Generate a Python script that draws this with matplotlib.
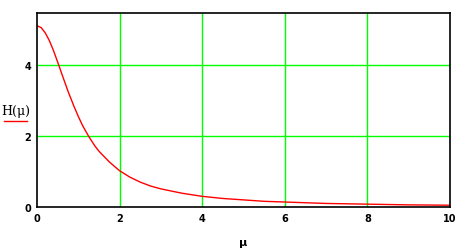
import matplotlib
matplotlib.use("Agg")
import matplotlib.pyplot as plt
from matplotlib.lines import Line2D

mu = [0, 0.1, 0.2, 0.3, 0.4, 0.5, 0.6, 0.75, 0.9, 1.0, 1.1, 1.25, 1.4, 1.5, 1.75, 2.0,
      2.25, 2.5, 2.75, 3.0, 3.5, 4.0, 4.5, 5.0, 5.5, 6.0, 7.0, 8.0, 9.0, 10.0]
H = [5.10, 5.05, 4.90, 4.68, 4.40, 4.08, 3.75, 3.26, 2.82, 2.55, 2.30, 1.99, 1.72, 1.57,
     1.27, 1.02, 0.84, 0.70, 0.59, 0.51, 0.39, 0.30, 0.24, 0.20, 0.16, 0.14, 0.10, 0.08,
     0.06, 0.05]
xticks = [0, 2, 4, 6, 8, 10]
yticks = [0, 2, 4]

W, Hh = 463, 251
fig = plt.figure(figsize=(W / 100, Hh / 100), dpi=100)
ax = fig.add_axes([37 / W, 1 - 208 / Hh, (450 - 37) / W, (208 - 14) / Hh])
ax.plot(mu, H, color="#ff0000", lw=1.0, zorder=3)
ax.set_xlim(0, 10)
ax.set_ylim(0, 5.46)
ax.set_xticks(xticks)
ax.set_yticks(yticks)
ax.grid(True, color="#00ff00", lw=1.0, zorder=1)
for t, gl in zip(xticks, ax.xaxis.get_gridlines()):
    if t in (xticks[0], xticks[-1]):
        gl.set_visible(False)
for t, gl in zip(yticks, ax.yaxis.get_gridlines()):
    if t == yticks[0]:
        gl.set_visible(False)
ax.tick_params(length=0, labelsize=7, pad=4)
for lab in ax.get_xticklabels() + ax.get_yticklabels():
    lab.set_fontweight("bold")
for s in ax.spines.values():
    s.set_linewidth(1.2)
    s.set_color("black")
    s.set_zorder(5)

fig.text(243 / W, 1 - 243 / Hh, "μ", ha="center", va="center", fontsize=8, fontweight="bold")
fig.text(16 / W, 1 - 112 / Hh, "H(μ)", ha="center", va="center", fontsize=9,
         family="DejaVu Serif")
fig.add_artist(Line2D([4 / W, 27 / W], [1 - 122 / Hh, 1 - 122 / Hh], color="#ff0000", lw=1.0))

fig.savefig("out.png", dpi=100)
